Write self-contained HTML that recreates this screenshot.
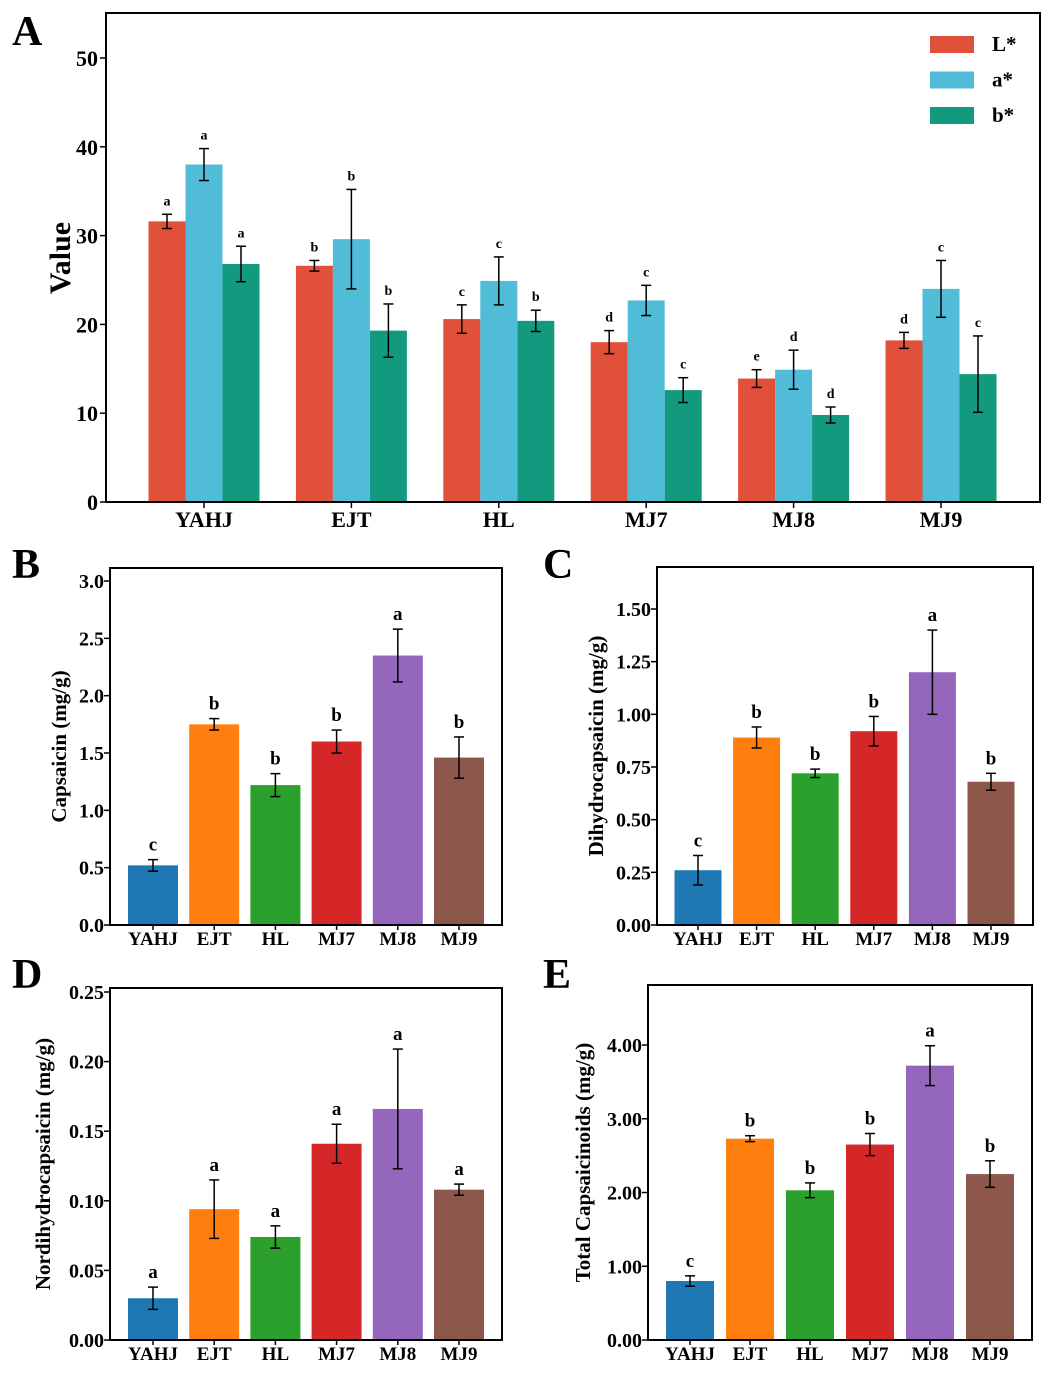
<!DOCTYPE html>
<html><head><meta charset="utf-8"><style>
body{margin:0;background:#fff;width:1052px;height:1374px;overflow:hidden}
svg{font-family:"Liberation Serif",serif;font-weight:bold}
</style></head><body>
<svg id="chart" width="1052" height="1374"></svg>
<script>
const NS="http://www.w3.org/2000/svg";
const svg=document.getElementById('chart');
// Panel A data
const aGroups=["YAHJ","EJT","HL","MJ7","MJ8","MJ9"];
const aSeries=["L*","a*","b*"];
const aL=[31.6,26.6,20.6,18.0,13.9,18.2];
const aLerr=[0.8,0.6,1.6,1.3,1.0,0.9];
const aA=[38.0,29.6,24.9,22.7,14.9,24.0];
const aAerr=[1.8,5.6,2.7,1.7,2.2,3.2];
const aB=[26.8,19.3,20.4,12.6,9.8,14.4];
const aBerr=[2.0,3.0,1.2,1.4,0.9,4.3];
const aLlet=["a","b","c","d","e","d"];
const aAlet=["a","b","c","c","d","c"];
const aBlet=["a","b","b","c","d","c"];
const aTicks=[0,10,20,30,40,50];
// Panels B-E data
const cats=["YAHJ","EJT","HL","MJ7","MJ8","MJ9"];
const capVals=[0.52,1.75,1.22,1.60,2.35,1.46];
const capErr=[0.05,0.05,0.10,0.10,0.23,0.18];
const capLet=["c","b","b","b","a","b"];
const capTicks=[0,0.5,1.0,1.5,2.0,2.5,3.0];
const dhVals=[0.26,0.89,0.72,0.92,1.20,0.68];
const dhErr=[0.07,0.05,0.02,0.07,0.20,0.04];
const dhLet=["c","b","b","b","a","b"];
const dhTicks=[0,0.25,0.5,0.75,1.0,1.25,1.5];
const ndVals=[0.030,0.094,0.074,0.141,0.166,0.108];
const ndErr=[0.008,0.021,0.008,0.014,0.043,0.004];
const ndLet=["a","a","a","a","a","a"];
const ndTicks=[0,0.05,0.10,0.15,0.20,0.25];
const tcVals=[0.80,2.73,2.03,2.65,3.72,2.25];
const tcErr=[0.07,0.04,0.10,0.15,0.27,0.18];
const tcLet=["c","b","b","b","a","b"];
const tcTicks=[0,1,2,3,4];
const colors=["#1f77b4","#ff7f0e","#2ca02c","#d62728","#9467bd","#8c564b"];

function el(tag,attrs,parent,text){const e=document.createElementNS(NS,tag);for(const k in attrs)e.setAttribute(k,attrs[k]);if(text!==undefined)e.textContent=text;(parent||svg).appendChild(e);return e;}

function errBar(g,x,y1,y2){
  const e1=el('line',{x1:x,x2:x,y1:y1,y2:y2,stroke:'#000','stroke-width':1.5},g);
  
  
  el('line',{x1:x-5,x2:x+5,y1:y1,y2:y1,stroke:'#000','stroke-width':1.5},g);
  el('line',{x1:x-5,x2:x+5,y1:y2,y2:y2,stroke:'#000','stroke-width':1.5},g);
}

// Panel A
(function(){
  const g=el('g',{});
  
  
  const L=106,R=1040,T=13,B=502;
  const y=v=>B-v*(B-58)/50;
  const gx=i=>204+i*147.4;
  aTicks.forEach(t=>{
    el('line',{x1:L-6,x2:L,y1:y(t),y2:y(t),stroke:'#000','stroke-width':1.5},g);
    const tx=el('text',{x:L-8,y:y(t)+8,'text-anchor':'end','font-size':22},g,t);
    
    
  });
  const series=[[aL,aLerr,aLlet,'#e0503a'],[aA,aAerr,aAlet,'#50bcd8'],[aB,aBerr,aBlet,'#139a7e']];
  const bw=37;
  aGroups.forEach((c,i)=>{
    series.forEach((s,j)=>{
      const x0=gx(i)-55.5+j*bw;
      const r=el('rect',{x:x0,y:y(s[0][i]),width:bw,height:B-y(s[0][i]),fill:s[3]},g);
      
      
      const xc=x0+bw/2;
      errBar(g,xc,y(s[0][i]+s[1][i]),y(s[0][i]-s[1][i]));
      el('text',{x:xc,y:y(s[0][i]+s[1][i])-9,'text-anchor':'middle','font-size':14},g,s[2][i]);
    });
    el('line',{x1:gx(i),x2:gx(i),y1:B,y2:B+6,stroke:'#000','stroke-width':1.5},g);
    const t=el('text',{x:gx(i),y:B+25,'text-anchor':'middle','font-size':22},g,c);
    
    
  });
  const fr=el('rect',{x:L,y:T,width:R-L,height:B-T,fill:'none',stroke:'#000','stroke-width':2},g);
  
  
  const yt=el('text',{transform:'translate(70,258) rotate(-90)','text-anchor':'middle','font-size':30},g,'Value');
  
  
  aSeries.forEach((s,j)=>{
    const le=el('g',{},g);
    
    
    el('rect',{x:930,y:36+j*35.5,width:44,height:17,fill:series[j][3]},le);
    el('text',{x:992,y:51+j*35.5,'font-size':21},le,s);
  });
})();

function panel(name,L,R,T,B,topPx,ticks,fmt,vals,err,lets,ytitle,titleX,bw,x0,step){
  const g=el('g',{});
  
  
  const tmax=ticks[ticks.length-1];
  const y=v=>B-v*(B-topPx)/tmax;
  const cx=i=>x0+step*i;
  ticks.forEach(t=>{
    el('line',{x1:L-6,x2:L,y1:y(t),y2:y(t),stroke:'#000','stroke-width':1.5},g);
    const tx=el('text',{x:L-6,y:y(t)+7,'text-anchor':'end','font-size':20},g,fmt(t));
    
    
  });
  cats.forEach((c,i)=>{
    const r=el('rect',{x:cx(i)-bw/2,y:y(vals[i]),width:bw,height:B-y(vals[i]),fill:colors[i]},g);
    
    
    errBar(g,cx(i),y(vals[i]+err[i]),y(vals[i]-err[i]));
    el('text',{x:cx(i),y:y(vals[i]+err[i])-9,'text-anchor':'middle','font-size':19},g,lets[i]);
    el('line',{x1:cx(i),x2:cx(i),y1:B,y2:B+5,stroke:'#000','stroke-width':1.5},g);
    const t=el('text',{x:cx(i),y:B+20,'text-anchor':'middle','font-size':19},g,c);
    
    
  });
  const fr=el('rect',{x:L,y:T,width:R-L,height:B-T,fill:'none',stroke:'#000','stroke-width':2},g);
  
  
  const yt=el('text',{transform:`translate(${titleX},${(T+B)/2}) rotate(-90)`,'text-anchor':'middle','font-size':21},g,ytitle);
  
  
}
const f1=t=>t.toFixed(1), f2=t=>t.toFixed(2);
panel('panel-b',110,502,568,925,581,capTicks,f1,capVals,capErr,capLet,'Capsaicin (mg/g)',66,50,153,61.2);
panel('panel-c',657,1033,567,925,609,dhTicks,f2,dhVals,dhErr,dhLet,'Dihydrocapsaicin (mg/g)',603,47,698,58.6);
panel('panel-d',110,502,988,1340,992,ndTicks,f2,ndVals,ndErr,ndLet,'Nordihydrocapsaicin (mg/g)',50,50,153,61.2);
panel('panel-e',648,1032,985,1340,1045,tcTicks,f2,tcVals,tcErr,tcLet,'Total Capsaicinoids (mg/g)',590,48,690,60);
[["A",12,45],["B",12,578],["C",543,578],["D",12,988],["E",543,988]].forEach(p=>{
  const t=el('text',{x:p[1],y:p[2],'font-size':42},svg,p[0]);
  
  
});
</script>
</body></html>
